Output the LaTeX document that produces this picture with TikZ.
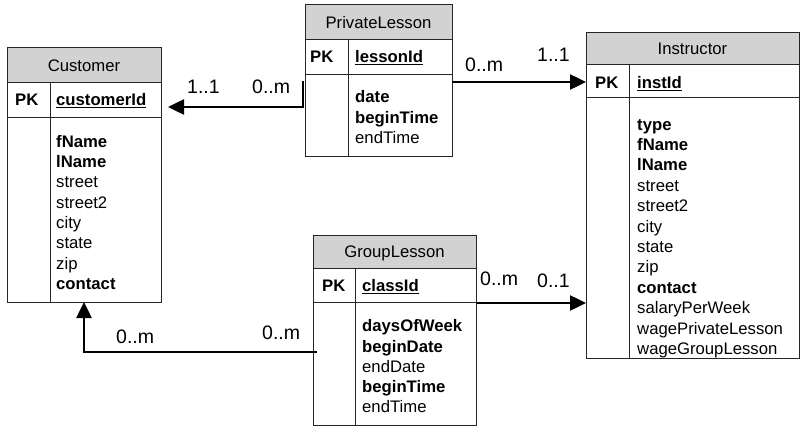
\documentclass[tikz,border=0pt]{standalone}
\usepackage{fontspec}
\setmainfont{Liberation Sans}
\usetikzlibrary{arrows.meta}
\begin{document}
\begin{tikzpicture}[x=1pt,y=-1pt,
  font=\fontsize{16.7}{19}\selectfont,
  hdr/.style={draw=black!85, line width=1pt, fill=gray!35, anchor=north west, inner sep=0pt, outer sep=0pt, text height=11.8pt, text depth=0pt},
  ent/.style={draw=black!85, line width=1pt, anchor=north west, inner sep=0pt, outer sep=0pt},
  sep/.style={draw=black!85, line width=1pt},
  txt/.style={anchor=base west, inner sep=0pt},
  lbl/.style={anchor=base west, inner sep=0pt, font=\fontsize{19.5}{22}\selectfont},
  conn/.style={draw=black, line width=2.5pt, -{Triangle[length=16pt,width=15pt]}}
]
\useasboundingbox (0,0) rectangle (801,428);

% ---------- Customer ----------
\node[hdr, minimum width=154pt, minimum height=35pt] (custH) at (7,48) {Customer};
\node[ent, minimum width=154pt, minimum height=254pt] (cust) at (7,48) {};
\draw[sep] (7,117) -- (161,117);
\draw[sep] (50,83) -- (50,302);
\node[txt] (custPK) at (15,105.7) {\bfseries PK};
\node[txt] (custId) at (56,105.7) {\bfseries\underline{customerId}};
\node[txt] (c1) at (56,147.3) {\bfseries fName};
\node[txt] (c2) at (56,167.6) {\bfseries lName};
\node[txt] (c3) at (56,187.9) {street};
\node[txt] (c4) at (56,208.2) {street2};
\node[txt] (c5) at (56,228.5) {city};
\node[txt] (c6) at (56,248.8) {state};
\node[txt] (c7) at (56,269.1) {zip};
\node[txt] (c8) at (56,289.4) {\bfseries contact};

% ---------- PrivateLesson ----------
\node[hdr, minimum width=147pt, minimum height=35pt] (plH) at (305,5) {PrivateLesson};
\node[ent, minimum width=147pt, minimum height=151pt] (pl) at (305,5) {};
\draw[sep] (305,75) -- (452,75);
\draw[sep] (348,40) -- (348,156);
\node[txt] (plPK) at (310,62.7) {\bfseries PK};
\node[txt] (plId) at (355,62.7) {\bfseries\underline{lessonId}};
\node[txt] (p1) at (355,102.7) {\bfseries date};
\node[txt] (p2) at (355,123) {\bfseries beginTime};
\node[txt] (p3) at (355,143.3) {endTime};

% ---------- Instructor ----------
\node[hdr, minimum width=213pt, minimum height=32pt] (instH) at (586,33) {Instructor};
\node[ent, minimum width=213pt, minimum height=325pt] (inst) at (586,33) {};
\draw[sep] (586,98) -- (799,98);
\draw[sep] (629,65) -- (629,358);
\node[txt] (iPK) at (595,88.3) {\bfseries PK};
\node[txt] (iId) at (637,88.3) {\bfseries\underline{instId}};
\node[txt] (i1) at (637,130) {\bfseries type};
\node[txt] (i2) at (637,150.4) {\bfseries fName};
\node[txt] (i3) at (637,170.8) {\bfseries lName};
\node[txt] (i4) at (637,191.2) {street};
\node[txt] (i5) at (637,211.6) {street2};
\node[txt] (i6) at (637,232) {city};
\node[txt] (i7) at (637,252.4) {state};
\node[txt] (i8) at (637,272.8) {zip};
\node[txt] (i9) at (637,293.2) {\bfseries contact};
\node[txt] (i10) at (637,313.6) {salaryPerWeek};
\node[txt] (i11) at (637,334) {wagePrivateLesson};
\node[txt] (i12) at (637,354.4) {wageGroupLesson};

% ---------- GroupLesson ----------
\node[hdr, minimum width=163pt, minimum height=33pt] (glH) at (313,235) {GroupLesson};
\node[ent, minimum width=163pt, minimum height=190pt] (gl) at (313,235) {};
\draw[sep] (313,302) -- (476,302);
\draw[sep] (355,268) -- (355,425);
\node[txt] (gPK) at (322,291.7) {\bfseries PK};
\node[txt] (gId) at (362,291.7) {\bfseries\underline{classId}};
\node[txt] (g1) at (362,331.7) {\bfseries daysOfWeek};
\node[txt] (g2) at (362,352) {\bfseries beginDate};
\node[txt] (g3) at (362,372.3) {endDate};
\node[txt] (g4) at (362,392.6) {\bfseries beginTime};
\node[txt] (g5) at (362,412.9) {endTime};

% ---------- connectors ----------
\coordinate (plA) at (303,81);
\coordinate (plB) at (303,107);
\draw[conn, shorten >=7pt] (plA) -- (plB) -- (plB -| cust.east);
\draw[conn] (pl.east |- 0,82) -- (inst.west |- 0,82);
\draw[conn] (gl.east |- 0,303) -- (inst.west |- 0,303);
\coordinate (glA) at (317,352);
\draw[conn] (glA) -| (cust.south);

% ---------- multiplicities ----------
\node[lbl] (m1) at (187,94) {1..1};
\node[lbl] (m2) at (252,94) {0..m};
\node[lbl] (m3) at (465,71.7) {0..m};
\node[lbl] (m4) at (537,62) {1..1};
\node[lbl] (m5) at (480,285) {0..m};
\node[lbl] (m6) at (537,287.7) {0..1};
\node[lbl] (m7) at (116,343.3) {0..m};
\node[lbl] (m8) at (262,339.3) {0..m};
\end{tikzpicture}
\end{document}
